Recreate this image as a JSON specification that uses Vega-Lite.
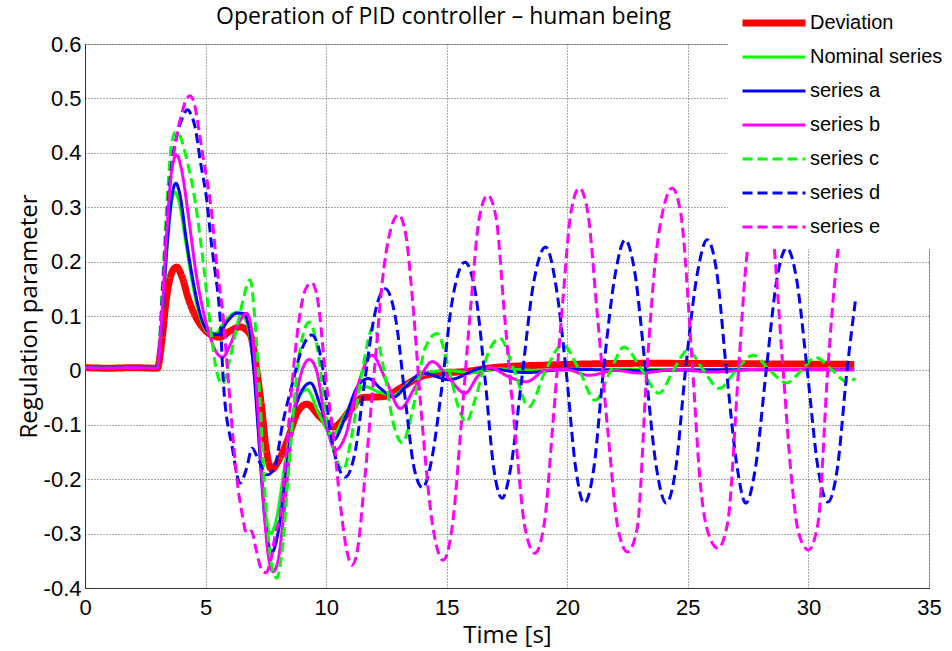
{
  "$schema": "https://vega.github.io/schema/vega-lite/v6.json",
  "width": 844,
  "height": 544,
  "autosize": {"type": "none"},
  "padding": {"left": 85, "top": 44, "right": 23, "bottom": 63},
  "background": "white",
  "view": {"stroke": "#b0b0b0", "strokeWidth": 1},
  "title": {
    "text": "Operation of PID controller – human being",
    "anchor": "start",
    "frame": "group",
    "dx": 131,
    "offset": -46,
    "baseline": "alphabetic",
    "font": "Open Sans",
    "fontSize": 23,
    "fontWeight": "normal",
    "color": "#000000"
  },
  "config": {
    "axis": {
      "gridColor": "#555555",
      "gridDash": [1, 2],
      "gridOpacity": 1,
      "gridWidth": 1,
      "domainColor": "#333333",
      "domainWidth": 1,
      "ticks": false,
      "labelFont": "Liberation Sans",
      "labelFontSize": 22,
      "labelColor": "#000000",
      "titleFont": "Open Sans",
      "titleFontSize": 24,
      "titleFontWeight": "normal",
      "titleColor": "#000000"
    }
  },
  "datasets": {
    "curves": [
      {"series":"Deviation","t":0,"v":0.005},{"series":"Deviation","t":1,"v":0.004},{"series":"Deviation","t":2,"v":0.005},{"series":"Deviation","t":3,"v":0.004},{"series":"Deviation","t":3.2,"v":0.06},{"series":"Deviation","t":3.4,"v":0.14},{"series":"Deviation","t":3.6,"v":0.18},{"series":"Deviation","t":3.8,"v":0.19},{"series":"Deviation","t":4.0,"v":0.175},{"series":"Deviation","t":4.3,"v":0.13},{"series":"Deviation","t":4.6,"v":0.098},{"series":"Deviation","t":4.98,"v":0.074},{"series":"Deviation","t":5.3,"v":0.064},{"series":"Deviation","t":5.6,"v":0.061},{"series":"Deviation","t":6.0,"v":0.072},{"series":"Deviation","t":6.43,"v":0.08},{"series":"Deviation","t":6.85,"v":0.066},{"series":"Deviation","t":7.1,"v":0.006},{"series":"Deviation","t":7.35,"v":-0.078},{"series":"Deviation","t":7.5,"v":-0.14},{"series":"Deviation","t":7.75,"v":-0.182},{"series":"Deviation","t":8.0,"v":-0.168},{"series":"Deviation","t":8.4,"v":-0.128},{"series":"Deviation","t":8.8,"v":-0.078},{"series":"Deviation","t":9.2,"v":-0.062},{"series":"Deviation","t":9.75,"v":-0.086},{"series":"Deviation","t":10.3,"v":-0.104},{"series":"Deviation","t":11.0,"v":-0.073},{"series":"Deviation","t":11.5,"v":-0.05},{"series":"Deviation","t":12.4,"v":-0.048},{"series":"Deviation","t":13.1,"v":-0.032},{"series":"Deviation","t":13.9,"v":-0.012},{"series":"Deviation","t":14.7,"v":-0.005},{"series":"Deviation","t":15.8,"v":-0.002},{"series":"Deviation","t":16.9,"v":0.005},{"series":"Deviation","t":19.3,"v":0.01},{"series":"Deviation","t":23.4,"v":0.013},{"series":"Deviation","t":28,"v":0.012},{"series":"Deviation","t":31.9,"v":0.011},

      {"series":"Nominal series","t":0,"v":0.005},{"series":"Nominal series","t":1,"v":0.004},{"series":"Nominal series","t":2,"v":0.005},{"series":"Nominal series","t":3,"v":0.004},{"series":"Nominal series","t":3.2,"v":0.1},{"series":"Nominal series","t":3.4,"v":0.22},{"series":"Nominal series","t":3.6,"v":0.31},{"series":"Nominal series","t":3.72,"v":0.328},{"series":"Nominal series","t":3.9,"v":0.31},{"series":"Nominal series","t":4.2,"v":0.23},{"series":"Nominal series","t":4.5,"v":0.15},{"series":"Nominal series","t":4.8,"v":0.095},{"series":"Nominal series","t":5.1,"v":0.07},{"series":"Nominal series","t":5.4,"v":0.068},{"series":"Nominal series","t":5.8,"v":0.09},{"series":"Nominal series","t":6.3,"v":0.107},{"series":"Nominal series","t":6.6,"v":0.097},{"series":"Nominal series","t":6.85,"v":0.06},{"series":"Nominal series","t":7.05,"v":-0.02},{"series":"Nominal series","t":7.3,"v":-0.18},{"series":"Nominal series","t":7.5,"v":-0.27},{"series":"Nominal series","t":7.7,"v":-0.3},{"series":"Nominal series","t":7.95,"v":-0.27},{"series":"Nominal series","t":8.3,"v":-0.17},{"series":"Nominal series","t":8.7,"v":-0.07},{"series":"Nominal series","t":9.2,"v":-0.035},{"series":"Nominal series","t":9.7,"v":-0.08},{"series":"Nominal series","t":10.25,"v":-0.119},{"series":"Nominal series","t":10.8,"v":-0.08},{"series":"Nominal series","t":11.3,"v":-0.04},{"series":"Nominal series","t":11.6,"v":-0.03},{"series":"Nominal series","t":12.2,"v":-0.04},{"series":"Nominal series","t":12.8,"v":-0.045},{"series":"Nominal series","t":13.5,"v":-0.02},{"series":"Nominal series","t":14.2,"v":-0.005},{"series":"Nominal series","t":15,"v":0.0},{"series":"Nominal series","t":16,"v":-0.004},{"series":"Nominal series","t":17,"v":0.003},{"series":"Nominal series","t":19,"v":0.0},{"series":"Nominal series","t":22,"v":0.002},{"series":"Nominal series","t":26,"v":0.001},{"series":"Nominal series","t":31.9,"v":0.002},

      {"series":"series a","t":0,"v":0.005},{"series":"series a","t":1,"v":0.004},{"series":"series a","t":2,"v":0.005},{"series":"series a","t":3,"v":0.004},{"series":"series a","t":3.2,"v":0.1},{"series":"series a","t":3.4,"v":0.23},{"series":"series a","t":3.6,"v":0.32},{"series":"series a","t":3.77,"v":0.344},{"series":"series a","t":3.95,"v":0.32},{"series":"series a","t":4.2,"v":0.24},{"series":"series a","t":4.5,"v":0.16},{"series":"series a","t":4.8,"v":0.1},{"series":"series a","t":5.1,"v":0.072},{"series":"series a","t":5.5,"v":0.066},{"series":"series a","t":5.9,"v":0.09},{"series":"series a","t":6.3,"v":0.105},{"series":"series a","t":6.55,"v":0.105},{"series":"series a","t":6.8,"v":0.08},{"series":"series a","t":7.0,"v":0.0},{"series":"series a","t":7.2,"v":-0.12},{"series":"series a","t":7.45,"v":-0.27},{"series":"series a","t":7.75,"v":-0.334},{"series":"series a","t":8.0,"v":-0.3},{"series":"series a","t":8.3,"v":-0.2},{"series":"series a","t":8.7,"v":-0.07},{"series":"series a","t":9.35,"v":-0.023},{"series":"series a","t":9.8,"v":-0.07},{"series":"series a","t":10.3,"v":-0.128},{"series":"series a","t":10.8,"v":-0.085},{"series":"series a","t":11.3,"v":-0.03},{"series":"series a","t":11.75,"v":-0.015},{"series":"series a","t":12.3,"v":-0.035},{"series":"series a","t":12.8,"v":-0.049},{"series":"series a","t":13.3,"v":-0.03},{"series":"series a","t":14.0,"v":-0.005},{"series":"series a","t":15.1,"v":-0.017},{"series":"series a","t":16.5,"v":0.004},{"series":"series a","t":18.3,"v":-0.004},{"series":"series a","t":20,"v":0.002},{"series":"series a","t":23,"v":0.0},{"series":"series a","t":26,"v":0.001},{"series":"series a","t":31.9,"v":0.001},

      {"series":"series b","t":0,"v":0.005},{"series":"series b","t":1,"v":0.004},{"series":"series b","t":2,"v":0.005},{"series":"series b","t":3,"v":0.004},{"series":"series b","t":3.2,"v":0.11},{"series":"series b","t":3.4,"v":0.26},{"series":"series b","t":3.6,"v":0.37},{"series":"series b","t":3.8,"v":0.396},{"series":"series b","t":4.0,"v":0.37},{"series":"series b","t":4.3,"v":0.28},{"series":"series b","t":4.6,"v":0.18},{"series":"series b","t":4.9,"v":0.11},{"series":"series b","t":5.2,"v":0.06},{"series":"series b","t":5.5,"v":0.03},{"series":"series b","t":5.7,"v":0.024},{"series":"series b","t":6.0,"v":0.045},{"series":"series b","t":6.35,"v":0.085},{"series":"series b","t":6.7,"v":0.105},{"series":"series b","t":6.95,"v":0.06},{"series":"series b","t":7.15,"v":-0.06},{"series":"series b","t":7.4,"v":-0.24},{"series":"series b","t":7.6,"v":-0.34},{"series":"series b","t":7.8,"v":-0.37},{"series":"series b","t":8.0,"v":-0.35},{"series":"series b","t":8.3,"v":-0.24},{"series":"series b","t":8.6,"v":-0.1},{"series":"series b","t":9.0,"v":0.0},{"series":"series b","t":9.3,"v":0.02},{"series":"series b","t":9.6,"v":0.0},{"series":"series b","t":10.0,"v":-0.1},{"series":"series b","t":10.4,"v":-0.146},{"series":"series b","t":10.8,"v":-0.12},{"series":"series b","t":11.3,"v":-0.03},{"series":"series b","t":11.9,"v":0.028},{"series":"series b","t":12.5,"v":-0.02},{"series":"series b","t":13.07,"v":-0.07},{"series":"series b","t":13.7,"v":-0.03},{"series":"series b","t":14.4,"v":0.016},{"series":"series b","t":15.1,"v":-0.015},{"series":"series b","t":15.76,"v":-0.042},{"series":"series b","t":16.3,"v":-0.01},{"series":"series b","t":16.8,"v":0.005},{"series":"series b","t":17.5,"v":-0.01},{"series":"series b","t":18.3,"v":-0.021},{"series":"series b","t":19.1,"v":0.0},{"series":"series b","t":19.9,"v":0.002},{"series":"series b","t":20.9,"v":-0.009},{"series":"series b","t":22,"v":0.0},{"series":"series b","t":23,"v":-0.005},{"series":"series b","t":24.5,"v":0.002},{"series":"series b","t":26,"v":-0.003},{"series":"series b","t":28,"v":0.002},{"series":"series b","t":31.9,"v":0.001},

      {"series":"series c","t":0,"v":0.005},{"series":"series c","t":1,"v":0.004},{"series":"series c","t":2,"v":0.005},{"series":"series c","t":3,"v":0.004},{"series":"series c","t":3.2,"v":0.15},{"series":"series c","t":3.4,"v":0.31},{"series":"series c","t":3.6,"v":0.42},{"series":"series c","t":3.75,"v":0.438},{"series":"series c","t":3.95,"v":0.43},{"series":"series c","t":4.15,"v":0.4},{"series":"series c","t":4.56,"v":0.313},{"series":"series c","t":4.9,"v":0.2},{"series":"series c","t":5.2,"v":0.08},{"series":"series c","t":5.45,"v":0.0},{"series":"series c","t":5.7,"v":-0.025},{"series":"series c","t":6.0,"v":0.02},{"series":"series c","t":6.4,"v":0.1},{"series":"series c","t":6.85,"v":0.166},{"series":"series c","t":7.05,"v":0.09},{"series":"series c","t":7.25,"v":-0.05},{"series":"series c","t":7.5,"v":-0.25},{"series":"series c","t":7.75,"v":-0.36},{"series":"series c","t":7.95,"v":-0.382},{"series":"series c","t":8.15,"v":-0.34},{"series":"series c","t":8.45,"v":-0.18},{"series":"series c","t":8.8,"v":0.0},{"series":"series c","t":9.1,"v":0.075},{"series":"series c","t":9.3,"v":0.089},{"series":"series c","t":9.6,"v":0.05},{"series":"series c","t":10.0,"v":-0.08},{"series":"series c","t":10.4,"v":-0.16},{"series":"series c","t":10.7,"v":-0.183},{"series":"series c","t":11.1,"v":-0.11},{"series":"series c","t":11.5,"v":0.0},{"series":"series c","t":11.95,"v":0.08},{"series":"series c","t":12.4,"v":0.0},{"series":"series c","t":12.8,"v":-0.1},{"series":"series c","t":13.15,"v":-0.133},{"series":"series c","t":13.6,"v":-0.07},{"series":"series c","t":14.1,"v":0.04},{"series":"series c","t":14.6,"v":0.068},{"series":"series c","t":15.1,"v":0.0},{"series":"series c","t":15.5,"v":-0.07},{"series":"series c","t":15.8,"v":-0.095},{"series":"series c","t":16.2,"v":-0.05},{"series":"series c","t":16.7,"v":0.03},{"series":"series c","t":17.2,"v":0.059},{"series":"series c","t":17.8,"v":0.0},{"series":"series c","t":18.4,"v":-0.067},{"series":"series c","t":19.1,"v":0.0},{"series":"series c","t":19.8,"v":0.047},{"series":"series c","t":20.5,"v":0.0},{"series":"series c","t":21.15,"v":-0.055},{"series":"series c","t":21.8,"v":0.0},{"series":"series c","t":22.35,"v":0.043},{"series":"series c","t":23.1,"v":0.0},{"series":"series c","t":23.8,"v":-0.042},{"series":"series c","t":24.4,"v":0.0},{"series":"series c","t":25.0,"v":0.037},{"series":"series c","t":25.65,"v":0.0},{"series":"series c","t":26.3,"v":-0.033},{"series":"series c","t":27.0,"v":0.0},{"series":"series c","t":27.7,"v":0.028},{"series":"series c","t":28.4,"v":0.0},{"series":"series c","t":29.1,"v":-0.023},{"series":"series c","t":29.7,"v":0.0},{"series":"series c","t":30.3,"v":0.024},{"series":"series c","t":31.0,"v":0.0},{"series":"series c","t":31.6,"v":-0.021},{"series":"series c","t":31.95,"v":-0.015},

      {"series":"series d","t":0,"v":0.005},{"series":"series d","t":1,"v":0.004},{"series":"series d","t":2,"v":0.005},{"series":"series d","t":3,"v":0.004},{"series":"series d","t":3.2,"v":0.13},{"series":"series d","t":3.4,"v":0.28},{"series":"series d","t":3.6,"v":0.38},{"series":"series d","t":3.8,"v":0.43},{"series":"series d","t":4.0,"v":0.46},{"series":"series d","t":4.25,"v":0.479},{"series":"series d","t":4.4,"v":0.47},{"series":"series d","t":4.56,"v":0.448},{"series":"series d","t":4.8,"v":0.38},{"series":"series d","t":5.05,"v":0.313},{"series":"series d","t":5.25,"v":0.23},{"series":"series d","t":5.4,"v":0.18},{"series":"series d","t":5.6,"v":0.098},{"series":"series d","t":5.75,"v":-0.03},{"series":"series d","t":6.1,"v":-0.14},{"series":"series d","t":6.43,"v":-0.207},{"series":"series d","t":6.7,"v":-0.18},{"series":"series d","t":6.93,"v":-0.143},{"series":"series d","t":7.2,"v":-0.165},{"series":"series d","t":7.55,"v":-0.192},{"series":"series d","t":7.85,"v":-0.18},{"series":"series d","t":8.2,"v":-0.097},{"series":"series d","t":8.6,"v":-0.024},{"series":"series d","t":9.0,"v":0.04},{"series":"series d","t":9.4,"v":0.065},{"series":"series d","t":9.8,"v":0.02},{"series":"series d","t":10.2,"v":-0.12},{"series":"series d","t":10.8,"v":-0.196},{"series":"series d","t":11.2,"v":-0.15},{"series":"series d","t":11.6,"v":-0.02},{"series":"series d","t":12.0,"v":0.1},{"series":"series d","t":12.45,"v":0.15},{"series":"series d","t":12.9,"v":0.09},{"series":"series d","t":13.3,"v":-0.06},{"series":"series d","t":13.65,"v":-0.18},{"series":"series d","t":14.0,"v":-0.216},{"series":"series d","t":14.35,"v":-0.17},{"series":"series d","t":14.8,"v":-0.03},{"series":"series d","t":15.2,"v":0.12},{"series":"series d","t":15.76,"v":0.199},{"series":"series d","t":16.2,"v":0.14},{"series":"series d","t":16.6,"v":-0.02},{"series":"series d","t":16.95,"v":-0.18},{"series":"series d","t":17.3,"v":-0.235},{"series":"series d","t":17.65,"v":-0.18},{"series":"series d","t":18.1,"v":-0.02},{"series":"series d","t":18.6,"v":0.16},{"series":"series d","t":19.1,"v":0.227},{"series":"series d","t":19.55,"v":0.15},{"series":"series d","t":19.95,"v":0.0},{"series":"series d","t":20.35,"v":-0.18},{"series":"series d","t":20.7,"v":-0.244},{"series":"series d","t":21.1,"v":-0.18},{"series":"series d","t":21.5,"v":0.0},{"series":"series d","t":22.0,"v":0.18},{"series":"series d","t":22.4,"v":0.24},{"series":"series d","t":22.8,"v":0.18},{"series":"series d","t":23.25,"v":0.0},{"series":"series d","t":23.7,"v":-0.18},{"series":"series d","t":24.1,"v":-0.244},{"series":"series d","t":24.5,"v":-0.18},{"series":"series d","t":24.9,"v":0.0},{"series":"series d","t":25.4,"v":0.18},{"series":"series d","t":25.8,"v":0.24},{"series":"series d","t":26.2,"v":0.18},{"series":"series d","t":26.6,"v":0.0},{"series":"series d","t":27.05,"v":-0.18},{"series":"series d","t":27.4,"v":-0.244},{"series":"series d","t":27.8,"v":-0.18},{"series":"series d","t":28.25,"v":0.0},{"series":"series d","t":28.7,"v":0.17},{"series":"series d","t":29.1,"v":0.225},{"series":"series d","t":29.5,"v":0.17},{"series":"series d","t":29.95,"v":0.0},{"series":"series d","t":30.4,"v":-0.18},{"series":"series d","t":30.8,"v":-0.242},{"series":"series d","t":31.2,"v":-0.18},{"series":"series d","t":31.6,"v":0.0},{"series":"series d","t":31.95,"v":0.129},

      {"series":"series e","t":0,"v":0.005},{"series":"series e","t":1,"v":0.004},{"series":"series e","t":2,"v":0.005},{"series":"series e","t":3,"v":0.004},{"series":"series e","t":3.2,"v":0.12},{"series":"series e","t":3.4,"v":0.27},{"series":"series e","t":3.6,"v":0.37},{"series":"series e","t":3.8,"v":0.43},{"series":"series e","t":4.0,"v":0.47},{"series":"series e","t":4.2,"v":0.498},{"series":"series e","t":4.35,"v":0.505},{"series":"series e","t":4.5,"v":0.495},{"series":"series e","t":4.85,"v":0.405},{"series":"series e","t":5.27,"v":0.282},{"series":"series e","t":5.47,"v":0.19},{"series":"series e","t":5.73,"v":0.098},{"series":"series e","t":5.9,"v":0.006},{"series":"series e","t":6.1,"v":-0.104},{"series":"series e","t":6.3,"v":-0.2},{"series":"series e","t":6.5,"v":-0.26},{"series":"series e","t":6.7,"v":-0.299},{"series":"series e","t":6.9,"v":-0.295},{"series":"series e","t":7.1,"v":-0.33},{"series":"series e","t":7.3,"v":-0.364},{"series":"series e","t":7.5,"v":-0.372},{"series":"series e","t":7.7,"v":-0.35},{"series":"series e","t":7.9,"v":-0.3},{"series":"series e","t":8.1,"v":-0.262},{"series":"series e","t":8.35,"v":-0.15},{"series":"series e","t":8.6,"v":-0.018},{"series":"series e","t":8.9,"v":0.1},{"series":"series e","t":9.15,"v":0.15},{"series":"series e","t":9.4,"v":0.161},{"series":"series e","t":9.65,"v":0.13},{"series":"series e","t":10.0,"v":-0.02},{"series":"series e","t":10.3,"v":-0.12},{"series":"series e","t":10.6,"v":-0.251},{"series":"series e","t":10.85,"v":-0.33},{"series":"series e","t":11.07,"v":-0.358},{"series":"series e","t":11.3,"v":-0.33},{"series":"series e","t":11.6,"v":-0.2},{"series":"series e","t":12.0,"v":0.0},{"series":"series e","t":12.4,"v":0.19},{"series":"series e","t":12.75,"v":0.27},{"series":"series e","t":13.0,"v":0.286},{"series":"series e","t":13.3,"v":0.25},{"series":"series e","t":13.6,"v":0.12},{"series":"series e","t":13.95,"v":-0.08},{"series":"series e","t":14.4,"v":-0.28},{"series":"series e","t":14.85,"v":-0.349},{"series":"series e","t":15.25,"v":-0.28},{"series":"series e","t":15.6,"v":-0.1},{"series":"series e","t":16.0,"v":0.12},{"series":"series e","t":16.35,"v":0.28},{"series":"series e","t":16.7,"v":0.322},{"series":"series e","t":17.05,"v":0.28},{"series":"series e","t":17.4,"v":0.1},{"series":"series e","t":17.85,"v":-0.12},{"series":"series e","t":18.25,"v":-0.29},{"series":"series e","t":18.66,"v":-0.336},{"series":"series e","t":19.05,"v":-0.28},{"series":"series e","t":19.4,"v":-0.1},{"series":"series e","t":19.8,"v":0.12},{"series":"series e","t":20.15,"v":0.29},{"series":"series e","t":20.5,"v":0.335},{"series":"series e","t":20.85,"v":0.29},{"series":"series e","t":21.25,"v":0.1},{"series":"series e","t":21.7,"v":-0.12},{"series":"series e","t":22.1,"v":-0.29},{"series":"series e","t":22.5,"v":-0.334},{"series":"series e","t":22.9,"v":-0.29},{"series":"series e","t":23.3,"v":0.0},{"series":"series e","t":23.65,"v":0.2},{"series":"series e","t":24.0,"v":0.3},{"series":"series e","t":24.35,"v":0.335},{"series":"series e","t":24.7,"v":0.29},{"series":"series e","t":25.2,"v":0.0},{"series":"series e","t":25.5,"v":-0.2},{"series":"series e","t":25.85,"v":-0.3},{"series":"series e","t":26.25,"v":-0.327},{"series":"series e","t":26.65,"v":-0.28},{"series":"series e","t":27.1,"v":0.0},{"series":"series e","t":27.4,"v":0.19},{"series":"series e","t":27.75,"v":0.3},{"series":"series e","t":28.1,"v":0.33},{"series":"series e","t":28.45,"v":0.28},{"series":"series e","t":28.95,"v":0.0},{"series":"series e","t":29.3,"v":-0.2},{"series":"series e","t":29.6,"v":-0.3},{"series":"series e","t":30.0,"v":-0.33},{"series":"series e","t":30.4,"v":-0.28},{"series":"series e","t":30.8,"v":0.0},{"series":"series e","t":31.15,"v":0.19},{"series":"series e","t":31.5,"v":0.3},{"series":"series e","t":31.85,"v":0.33},{"series":"series e","t":32.0,"v":0.32}
    ]
  },
  "data": {"name": "curves"},
  "mark": {"type": "line", "interpolate": "monotone", "clip": true},
  "encoding": {
    "x": {
      "field": "t",
      "type": "quantitative",
      "scale": {"domain": [0, 35], "nice": false, "zero": false},
      "axis": {
        "values": [0, 5, 10, 15, 20, 25, 30, 35],
        "title": "Time [s]",
        "labelPadding": 9,
        "labelFlush": false,
        "titleBaseline": "alphabetic",
        "titleY": 54
      }
    },
    "y": {
      "field": "v",
      "type": "quantitative",
      "scale": {"domain": [-0.4, 0.6], "nice": false, "zero": false},
      "axis": {
        "values": [-0.4, -0.3, -0.2, -0.1, 0, 0.1, 0.2, 0.3, 0.4, 0.5, 0.6],
        "labelExpr": "'' + round(datum.value * 10) / 10",
        "title": "Regulation parameter",
        "labelPadding": 4,
        "labelFlush": false,
        "titleAngle": -90,
        "titleBaseline": "alphabetic",
        "titleAnchor": "middle",
        "titleX": -49,
        "titleY": 272
      }
    },
    "color": {
      "field": "series",
      "type": "nominal",
      "scale": {
        "domain": ["Deviation", "Nominal series", "series a", "series b", "series c", "series d", "series e"],
        "range": ["#ff0000", "#00ff00", "#0000ff", "#ff00ff", "#00ff00", "#0000ff", "#ff00ff"]
      },
      "legend": {
        "title": null,
        "orient": "none",
        "legendX": 643,
        "legendY": -43,
        "zindex": 1,
        "fillColor": "#ffffff",
        "strokeColor": null,
        "padding": 11,
        "clipHeight": 22,
        "rowPadding": 12,
        "symbolType": "stroke",
        "symbolSize": 3969,
        "labelOffset": 1,
        "labelFont": "Liberation Sans",
        "labelFontSize": 20,
        "labelColor": "#000000",
        "labelLimit": 300
      }
    },
    "strokeDash": {
      "field": "series",
      "type": "nominal",
      "scale": {
        "domain": ["Deviation", "Nominal series", "series a", "series b", "series c", "series d", "series e"],
        "range": [[1, 0], [1, 0], [1, 0], [1, 0], [10, 5], [10, 5], [10, 5]]
      }
    },
    "strokeWidth": {
      "field": "series",
      "type": "nominal",
      "scale": {
        "type": "ordinal",
        "domain": ["Deviation", "Nominal series", "series a", "series b", "series c", "series d", "series e"],
        "range": [7, 3, 3, 3, 3, 3, 3]
      }
    }
  }
}
